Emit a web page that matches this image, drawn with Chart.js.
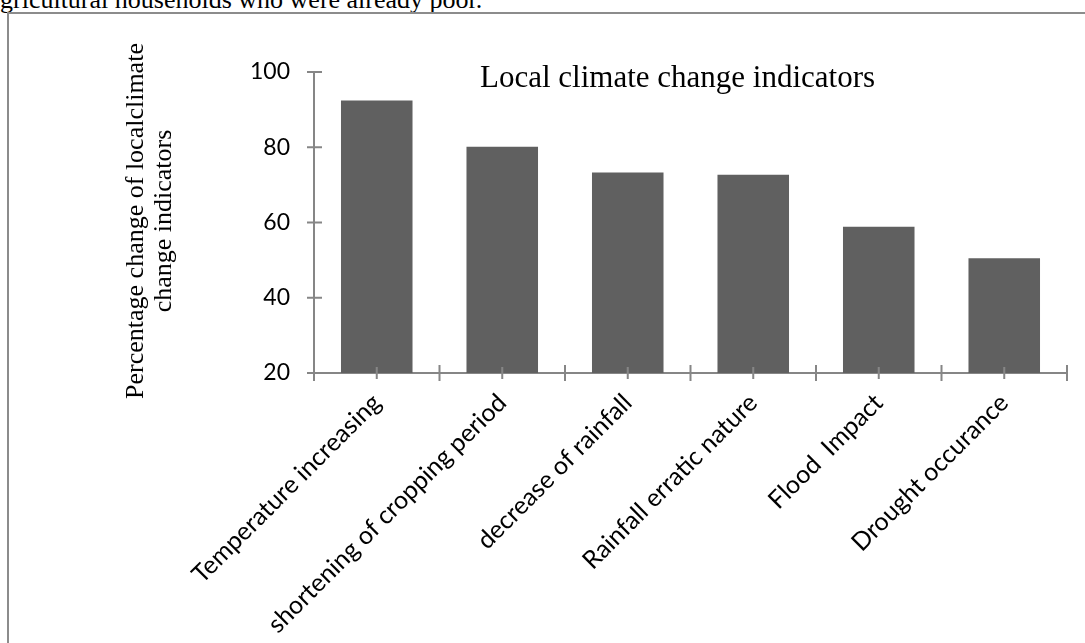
<!DOCTYPE html>
<html lang="en">
<head>
    <meta charset="UTF-8">
    <title>Local climate change indicators</title>
    <script src="https://cdn.jsdelivr.net/npm/chart.js"></script>
    <style>
        body {
            margin: 0;
            width: 1085px;
            height: 643px;
            overflow: hidden;
            background: #fff;
            position: relative;
        }
        .lead {
            position: absolute;
            left: 0;
            top: -15px;
            font-family: "Liberation Serif", serif;
            font-size: 26px;
            white-space: nowrap;
        }
        .frame {
            position: absolute;
            left: 7px;
            top: 12px;
            width: 1100px;
            height: 700px;
            border: 2px solid #8c8c8c;
        }
        .chart-title {
            position: absolute;
            left: 480px;
            top: 59px;
            font-family: "Liberation Serif", serif;
            font-size: 31px;
            white-space: nowrap;
        }
        .y-title {
            position: absolute;
            width: 420px;
            left: -61px;
            top: 193px;
            line-height: 28px;
            text-align: center;
            font-family: "Liberation Serif", serif;
            font-size: 26px;
            transform: rotate(-90deg);
            transform-origin: center;
        }
        #chart {
            position: absolute;
            left: 0;
            top: 0;
        }
    </style>
</head>
<body>
    <div class="lead">gricultural households who were already poor.</div>
    <div class="frame"></div>
    <canvas id="chart" width="1085" height="643"></canvas>
    <div class="chart-title">Local climate change indicators</div>
    <div class="y-title">Percentage change of localclimate<br>change indicators</div>

    <script>
        // data
        const categories = [
            'Temperature increasing',
            'shortening of cropping period',
            'decrease of rainfall',
            'Rainfall erratic nature',
            'Flood  Impact',
            'Drought occurance'
        ];
        const values = [92.4, 80.1, 73.3, 72.7, 58.9, 50.5];
        const yTicks = [20, 40, 60, 80, 100];

        const axisColor = '#868686';

        // Excel style tick marks that cross the axis lines
        const crossTicks = {
            id: 'crossTicks',
            afterDraw(chart) {
                const { ctx, scales: { x, y } } = chart;
                ctx.save();
                ctx.strokeStyle = axisColor;
                ctx.lineWidth = 2;
                ctx.beginPath();
                yTicks.forEach(v => {
                    const py = y.getPixelForValue(v);
                    ctx.moveTo(x.left - 7, py);
                    ctx.lineTo(x.left + 8, py);
                });
                const base = y.bottom;
                // category edges
                for (let i = 0; i <= categories.length; i++) {
                    const px = x.getPixelForValue(i - 0.5);
                    ctx.moveTo(px, i === 0 ? base : base - 8);
                    ctx.lineTo(px, base + 8);
                }
                // category centres
                for (let i = 0; i < categories.length; i++) {
                    const px = x.getPixelForTick(i);
                    ctx.moveTo(px, base - 6);
                    ctx.lineTo(px, base + 6);
                }
                ctx.stroke();
                ctx.restore();
            }
        };

        const ctx = document.getElementById('chart').getContext('2d');
        new Chart(ctx, {
            type: 'bar',
            data: {
                labels: categories,
                datasets: [{
                    data: values,
                    backgroundColor: '#606060',
                    borderWidth: 0,
                    categoryPercentage: 1,
                    barPercentage: 0.57
                }]
            },
            options: {
                responsive: false,
                animation: false,
                layout: {
                    padding: { top: 72, right: 18, bottom: 0, left: 0 }
                },
                plugins: {
                    legend: { display: false },
                    tooltip: { enabled: false }
                },
                scales: {
                    x: {
                        grid: { display: false, drawTicks: false },
                        border: { color: axisColor, width: 2 },
                        ticks: {
                            autoSkip: false,
                            minRotation: 45,
                            maxRotation: 45,
                            padding: 15,
                            color: '#000',
                            font: { family: 'Lato', size: 25 }
                        },
                        afterFit(scale) { scale.height = 270; }
                    },
                    y: {
                        min: 20,
                        max: 100,
                        grid: { display: false, drawTicks: false },
                        border: { color: axisColor, width: 2 },
                        ticks: {
                            stepSize: 20,
                            padding: 24,
                            color: '#000',
                            font: { family: 'Lato', size: 23 }
                        },
                        afterFit(scale) { scale.width = 314; }
                    }
                }
            },
            plugins: [crossTicks]
        });
    </script>
</body>
</html>
